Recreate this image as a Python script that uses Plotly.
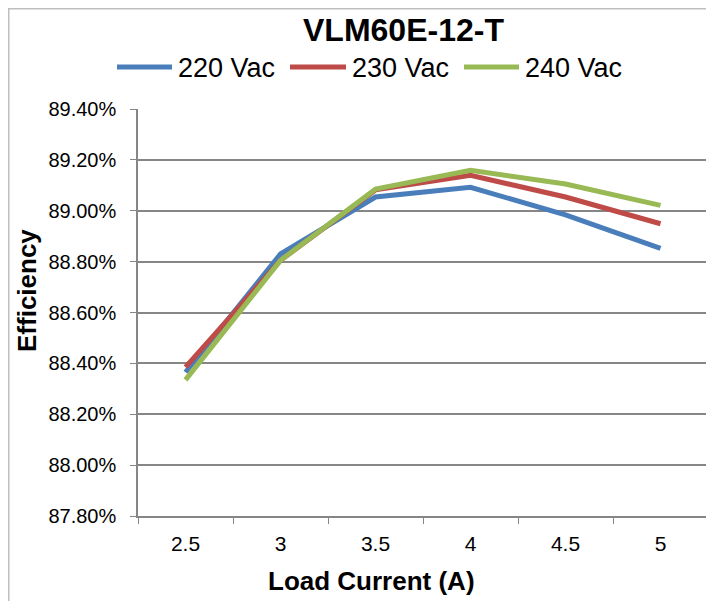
import plotly.graph_objects as go

categories = ["2.5", "3", "3.5", "4", "4.5", "5"]
series_names = ["220 Vac", "230 Vac", "240 Vac"]
eff_220 = [88.365, 88.830, 89.054, 89.092, 88.984, 88.852]
eff_230 = [88.385, 88.805, 89.082, 89.139, 89.054, 88.949]
eff_240 = [88.335, 88.805, 89.085, 89.159, 89.105, 89.021]
colors = ["#4A7EBB", "#BE4B48", "#98B954"]
y_ticks = [87.8, 88.0, 88.2, 88.4, 88.6, 88.8, 89.0, 89.2, 89.4]

W, H = 714, 601
OFF = 8  # page body margin offset
# desired plot box in screenshot coords: x 138..708, y 109..516
L, T = 138 - OFF, 109 - OFF
R = W - (708 - OFF)
B = H - (516 - OFF)
pw, ph = W - L - R, H - T - B


def px_x(x):
    return (x - OFF - L) / pw


def px_y(y):
    return (H - B - (y - OFF)) / ph


font = "Liberation Sans, Arial, sans-serif"
fig = go.Figure()
for name, vals, c in zip(series_names, [eff_220, eff_230, eff_240], colors):
    fig.add_trace(go.Scatter(x=categories, y=vals, name=name, mode="lines",
                             line=dict(color=c, width=5)))

# manual legend (long line samples like the original)
legend_line_x = [(117, 172), (290, 346), (464, 519)]
legend_y = 67
shapes = []
annotations = []
for (x0, x1), name, c in zip(legend_line_x, series_names, colors):
    shapes.append(dict(type="line", xref="paper", yref="paper", x0=px_x(x0), x1=px_x(x1),
                       y0=px_y(legend_y), y1=px_y(legend_y),
                       line=dict(color=c, width=5)))
    annotations.append(dict(text=name, x=px_x(x1 + 4), y=px_y(legend_y + 1), xref="paper",
                            yref="paper", showarrow=False, font=dict(size=27),
                            xanchor="left", yanchor="middle"))

annotations += [
    dict(text="<b>VLM60E-12-T</b>", x=px_x(403), y=px_y(30), xref="paper", yref="paper",
         showarrow=False, font=dict(size=32), xanchor="center", yanchor="middle"),
    dict(text="<b>Efficiency</b>", x=px_x(27), y=px_y(291), xref="paper", yref="paper",
         showarrow=False, font=dict(size=26), textangle=-90, xanchor="center", yanchor="middle"),
    dict(text="<b>Load Current (A)</b>", x=px_x(371), y=px_y(581), xref="paper", yref="paper",
         showarrow=False, font=dict(size=26), xanchor="center", yanchor="middle"),
]
shapes.append(dict(type="rect", xref="paper", yref="paper", x0=px_x(OFF + 0.75), x1=px_x(740),
                   y0=px_y(640), y1=px_y(OFF + 0.75), line=dict(color="#BFBFBF", width=1.5),
                   fillcolor="rgba(0,0,0,0)", layer="below"))

fig.update_layout(
    width=W, height=H, margin=dict(l=L, r=R, t=T, b=B),
    paper_bgcolor="white", plot_bgcolor="white",
    font=dict(family=font, size=20, color="black"),
    showlegend=False,
    xaxis=dict(type="category", tickson="boundaries", ticks="outside", ticklen=6,
               tickcolor="#868686", showline=True, linecolor="#868686", linewidth=1.5,
               showgrid=False, tickfont=dict(size=21), range=[-0.5, 5.5],
               ticklabelstandoff=8),
    yaxis=dict(range=[87.8, 89.4], tickvals=y_ticks,
               ticktext=[f"{v:.2f}%" for v in y_ticks], ticks="outside", ticklen=6,
               tickcolor="#868686", showline=True, linecolor="#868686", linewidth=1.5,
               showgrid=True, gridcolor="#868686", gridwidth=1.5, zeroline=False,
               tickfont=dict(size=20), ticklabelstandoff=10),
    annotations=annotations,
    shapes=shapes,
)
fig.write_html("out.html")
